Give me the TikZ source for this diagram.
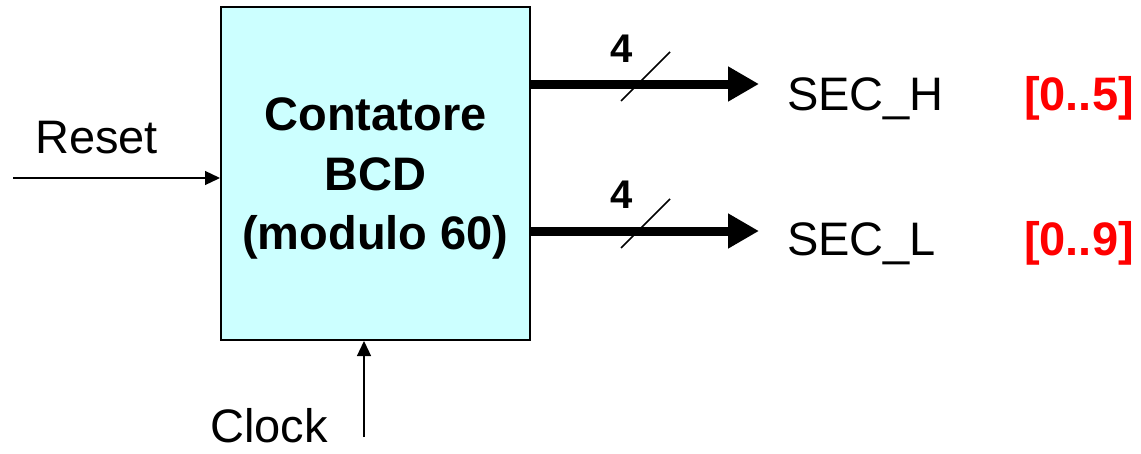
\documentclass[tikz,border=0pt]{standalone}
\usepackage{fontspec}
\setmainfont{Liberation Sans}
\usetikzlibrary{arrows.meta}
\definecolor{boxfill}{HTML}{CCFFFF}
\definecolor{rangered}{HTML}{FF0000}
\tikzset{
  blockbox/.style={draw=black, line width=2pt, fill=boxfill, minimum width=309pt, minimum height=333pt, inner sep=0pt},
  boxtext/.style={anchor=base, inner sep=0pt, font=\fontsize{47}{56}\selectfont\bfseries},
  sigtext/.style={anchor=base west, inner sep=0pt, font=\fontsize{47}{56}\selectfont},
  rangetext/.style={anchor=base east, inner sep=0pt, text=rangered, font=\fontsize{47}{56}\selectfont\bfseries},
  widthtext/.style={anchor=base, inner sep=0pt, font=\fontsize{40}{48}\selectfont\bfseries},
  bus/.style={line width=9pt, -{Triangle[length=31pt,width=33pt]}},
  thinarrow/.style={line width=1.3pt, -{Triangle[length=15pt,width=14pt]}},
  slash/.style={line width=1.5pt}
}
\begin{document}
\begin{tikzpicture}[x=1pt,y=-1pt]
\useasboundingbox (0,0) rectangle (1141,453);
\node[blockbox] (box) at (375.5,173.5) {};
\node[boxtext] (t1) at (375.5,130) {Contatore};
\node[boxtext] (t2) at (375.5,190) {BCD};
\node[boxtext] (t3) at (375.5,249) {(modulo 60)};

% outputs
\coordinate (htip) at (759,84);
\coordinate (ltip) at (759,231);
\draw[bus] (box.east |- htip) -- (htip);
\draw[bus] (box.east |- ltip) -- (ltip);
\coordinate (hs1) at (621,101);
\coordinate (hs2) at (670,52);
\coordinate (ls1) at (621,248);
\coordinate (ls2) at (670,199);
\draw[slash] (hs1) -- (hs2);
\draw[slash] (ls1) -- (ls2);
\node[widthtext] (wh) at (622,62) {4};
\node[widthtext] (wl) at (622,208) {4};
\node[sigtext] (sech) at (787,110) {SEC\_H};
\node[sigtext] (secl) at (787,255) {SEC\_L};
\node[rangetext] (rh) at (1134,110) {[0..5]};
\node[rangetext] (rl) at (1134,255) {[0..9]};

% inputs
\coordinate (rstart) at (13,178);
\draw[thinarrow] (rstart) -- (box.west |- rstart);
\node[sigtext] (reset) at (35,153) {Reset};
\coordinate (cstart) at (364,437);
\draw[thinarrow] (cstart) -- (box.south -| cstart);
\node[sigtext] (clock) at (210,442) {Clock};
\end{tikzpicture}
\end{document}
